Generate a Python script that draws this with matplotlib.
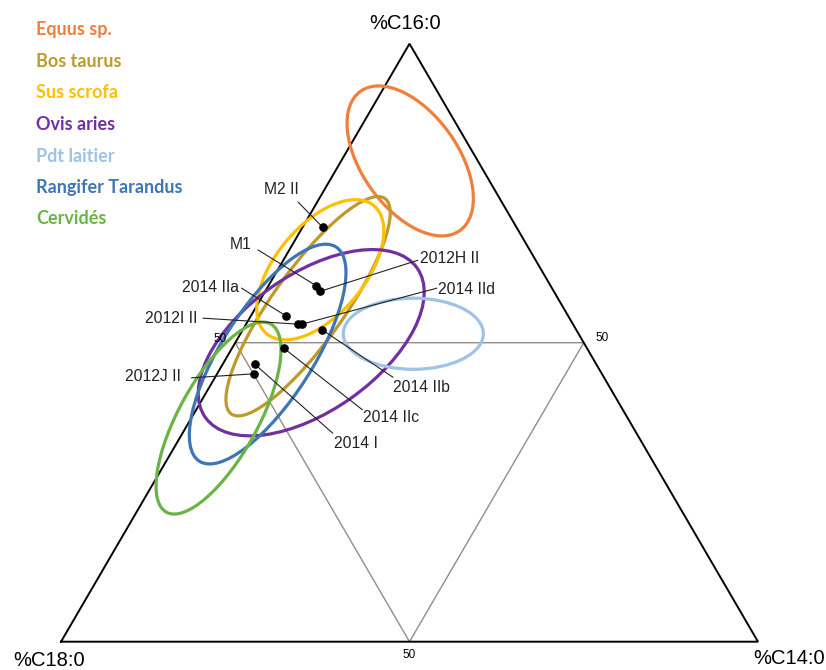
import numpy as np
import matplotlib
matplotlib.use('Agg')
import matplotlib.pyplot as plt
from matplotlib.patches import Ellipse

plt.rcParams['font.family'] = ['Liberation Sans', 'DejaVu Sans']

# --- groupes de référence (ellipses), composition du centre en % ---
groups = ['Equus sp.', 'Bos taurus', 'Sus scrofa', 'Ovis aries',
          'Pdt laitier', 'Rangifer Tarandus', 'Cervidés']
group_c16 = [80.4, 56.1, 62.2, 50.0, 51.5, 48.1, 37.4]
group_c14 = [9.9, 7.4, 6.1, 10.9, 24.8, 5.6, 3.9]
group_len = [24.7, 38.2, 24.1, 37.3, 20.1, 36.7, 31.1]   # grand axe, % du côté
group_wid = [13.8, 10.3, 12.8, 19.7, 10.3, 13.1, 11.3]   # petit axe, % du côté
group_angle = [-55, 54.8, 50.5, 35.6, 0, 57.8, 61.3]
group_colors = ['#F07F3C', '#BE9A2D', '#FFC000', '#7030A0',
                '#9DC3E6', '#3E75B5', '#6AB446']

# --- échantillons ---
samples = ['M2 II', 'M1', '2012H II', '2014 IIa', '2012I II',
           '2014 IId', '2014 IIb', '2014 IIc', '2014 I', '2012J II']
sample_c16 = [69.3, 59.5, 58.6, 54.5, 53.1, 53.1, 52.2, 49.1, 46.4, 44.8]
sample_c14 = [2.9, 6.9, 7.9, 5.0, 7.5, 8.0, 11.3, 7.4, 4.6, 5.3]

# placement des étiquettes (px): centre du texte, bout du trait
label_layout = {
    'M2 II':    (-41.7, -37.3, -24.7, -25.3),
    'M1':       (-75.5, -41.0, -58.5, -36.0),
    '2012H II': (129.5, -33.0, 97.5, -31.0),
    '2014 IIa': (-75.0, -28.7, -44.3, -27.7),
    '2012I II': (-127.3, -6.0, -95.3, -6.0),
    '2014 IId': (164.3, -35.0, 135.0, -36.0),
    '2014 IIb': (99.3, 57.7, 71.3, 47.7),
    '2014 IIc': (107.7, 69.7, 78.7, 61.7),
    '2014 I':   (101.0, 79.0, 78.0, 69.0),
    '2012J II': (-101.3, 3.0, -62.6, 4.0),
}
PT = 0.72  # 1 px -> points à 100 dpi


def tern_xy(c16, c14):
    """(%C16:0, %C14:0) -> coordonnées cartésiennes du triangle."""
    c16 = np.asarray(c16) / 100.0
    c14 = np.asarray(c14) / 100.0
    return c14 + c16 / 2, c16 * np.sqrt(3) / 2


fig = plt.figure(figsize=(8.26, 6.70), dpi=100)
ax = fig.add_axes([0, 0, 1, 1])
ax.set_xlim(-61 / 697, 765 / 697)
ax.set_ylim(-28.3 / 690.5, 641.7 / 690.5)
ax.axis('off')

# triangle et lignes à 50 %
vx, vy = tern_xy([0, 0, 100, 0], [0, 100, 0, 0])
ax.plot(vx, vy, color='black', lw=1.4, zorder=2, solid_joinstyle='miter')
mx, my = tern_xy([50, 0, 50, 50], [0, 50, 50, 0])
ax.plot(mx, my, color='#978b88', lw=1.0, zorder=1)

ax.annotate('50', (mx[0], my[0]), xytext=(-15 * PT, 4 * PT), zorder=6,
            textcoords='offset points', ha='center', va='center', fontsize=8.5)
ax.annotate('50', (mx[2], my[2]), xytext=(18 * PT, 5 * PT), zorder=6,
            textcoords='offset points', ha='center', va='center', fontsize=8.5)
ax.annotate('50', (mx[1], my[1]), xytext=(0, -13 * PT), zorder=6,
            textcoords='offset points', ha='center', va='center', fontsize=8.5)

ax.annotate('%C16:0', (vx[2], vy[2]), xytext=(-4 * PT, 20 * PT),
            textcoords='offset points', ha='center', va='center', fontsize=14.5)
ax.annotate('%C18:0', (vx[0], vy[0]), xytext=(-11.5 * PT, -18.3 * PT),
            textcoords='offset points', ha='center', va='center', fontsize=14.5)
ax.annotate('%C14:0', (vx[1], vy[1]), xytext=(31 * PT, -17.3 * PT),
            textcoords='offset points', ha='center', va='center', fontsize=14.5)

# ellipses
gx, gy = tern_xy(group_c16, group_c14)
for i in range(len(groups)):
    ax.add_patch(Ellipse((gx[i], gy[i]), group_len[i] / 100, group_wid[i] / 100,
                         angle=group_angle[i], fill=False,
                         edgecolor=group_colors[i], lw=2.3, zorder=3))

# échantillons + étiquettes
sx, sy = tern_xy(sample_c16, sample_c14)
for i, name in enumerate(samples):
    tdx, tdy, ldx, ldy = label_layout[name]
    ax.annotate('', (sx[i], sy[i]), xytext=(ldx * PT, -ldy * PT),
                textcoords='offset points',
                arrowprops=dict(arrowstyle='-', lw=0.8, color='#222222',
                                shrinkA=0, shrinkB=0), zorder=4)
    ax.annotate(name, (sx[i], sy[i]), xytext=(tdx * PT, -tdy * PT),
                textcoords='offset points', ha='center', va='center',
                fontsize=11.3, color='#222222', zorder=6)
ax.plot(sx, sy, 'o', color='black', ms=5.2, zorder=5)

# légende en texte coloré
for i, name in enumerate(groups):
    fig.text(36 / 826, 1 - (30 + 31.5 * i) / 670, name, color=group_colors[i],
             fontsize=13, fontweight='bold', family=['Lato', 'DejaVu Sans'],
             ha='left', va='center')

fig.savefig('out.png', dpi=100)
